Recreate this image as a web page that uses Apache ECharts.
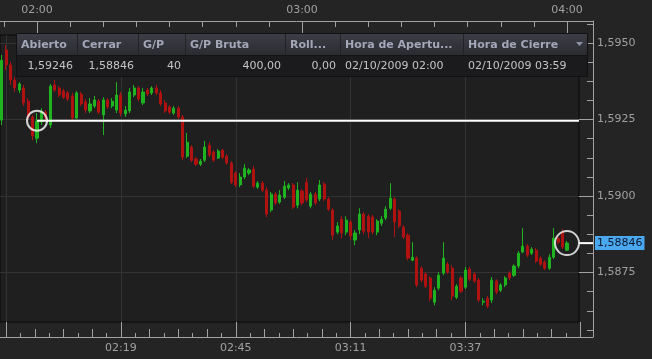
<!DOCTYPE html>
<html><head><meta charset="utf-8">
<script src="https://cdn.jsdelivr.net/npm/echarts@6/dist/echarts.min.js"></script>
<style>html,body{margin:0;padding:0;background:#242424;}#c{width:652px;height:359px;}</style>
</head><body><div id="c"></div>
<script>
// ---------------- DATA ----------------
const times = ['01:52','01:53','01:54','01:55','01:56','01:57','01:58','01:59',
'02:00','02:01','02:02','02:03','02:04','02:05','02:06','02:07','02:08','02:09','02:10','02:11','02:12','02:13','02:14','02:15','02:16','02:17','02:18','02:19',
'02:20','02:21','02:22','02:23','02:24','02:25','02:26','02:27','02:28','02:29','02:30','02:31','02:32','02:33','02:34','02:35','02:36','02:37','02:38','02:39',
'02:40','02:41','02:42','02:43','02:44','02:45','02:46','02:47','02:48','02:49','02:50','02:51','02:52','02:53','02:54','02:55','02:56','02:57','02:58','02:59',
'03:00','03:01','03:02','03:03','03:04','03:05','03:06','03:07','03:08','03:09','03:10','03:11','03:12','03:13','03:14','03:15','03:16','03:17','03:18','03:19',
'03:20','03:21','03:22','03:23','03:24','03:25','03:26','03:27','03:28','03:29','03:30','03:31','03:32','03:33','03:34','03:35','03:36','03:37','03:38','03:39',
'03:40','03:41','03:42','03:43','03:44','03:45','03:46','03:47','03:48','03:49','03:50','03:51','03:52','03:53','03:54','03:55','03:56','03:57','03:58','03:59','04:00'];

const opens = [1.59248,1.59477,1.59428,1.59379,1.59346,1.59353,1.59310,1.59258,
1.59189,1.59242,1.59274,1.59232,1.59363,1.59353,1.59343,1.59337,1.59327,1.59255,1.59333,1.59307,1.59278,1.59294,1.59310,1.59265,1.59314,1.59294,1.59281,1.59330,
1.59268,1.59278,1.59330,1.59353,1.59304,1.59346,1.59337,1.59353,1.59337,1.59304,1.59291,1.59271,1.59287,1.59258,1.59130,1.59160,1.59121,1.59104,1.59117,1.59166,
1.59144,1.59124,1.59150,1.59130,1.59108,1.59075,1.59036,1.59062,1.59075,1.59088,1.59029,1.59042,1.59019,1.58954,1.59006,1.58980,1.58996,1.59026,1.59036,1.58970,
1.59016,1.59045,1.58967,1.59006,1.58990,1.59039,1.58990,1.58954,1.58882,1.58924,1.58882,1.58915,1.58856,1.58889,1.58941,1.58934,1.58931,1.58882,1.58911,1.58928,
1.58960,1.58990,1.58951,1.58898,1.58872,1.58790,1.58797,1.58764,1.58745,1.58732,1.58653,1.58699,1.58748,1.58777,1.58764,1.58669,1.58732,1.58702,1.58761,1.58745,
1.58725,1.58653,1.58666,1.58660,1.58722,1.58692,1.58709,1.58748,1.58741,1.58771,1.58817,1.58836,1.58813,1.58823,1.58797,1.58784,1.58764,1.58800,1.58862,1.58882,1.58823];

const closes = [1.59444,1.59428,1.59379,1.59353,1.59366,1.59304,1.59258,1.59196,
1.59245,1.59274,1.59255,1.59359,1.59346,1.59330,1.59323,1.59317,1.59255,1.59337,1.59301,1.59281,1.59301,1.59314,1.59274,1.59314,1.59291,1.59310,1.59330,1.59271,
1.59281,1.59340,1.59353,1.59317,1.59340,1.59333,1.59353,1.59337,1.59301,1.59278,1.59274,1.59287,1.59258,1.59127,1.59176,1.59117,1.59104,1.59114,1.59160,1.59134,
1.59117,1.59147,1.59127,1.59108,1.59045,1.59036,1.59062,1.59091,1.59085,1.59032,1.59042,1.59019,1.58941,1.59006,1.58977,1.59003,1.59032,1.59036,1.58964,1.59019,
1.58977,1.58987,1.59006,1.58977,1.59036,1.58990,1.58957,1.58872,1.58902,1.58879,1.58921,1.58869,1.58879,1.58941,1.58885,1.58882,1.58882,1.58918,1.58924,1.58957,
1.58993,1.58915,1.58902,1.58866,1.58797,1.58800,1.58709,1.58725,1.58705,1.58666,1.58692,1.58741,1.58797,1.58751,1.58673,1.58705,1.58689,1.58758,1.58728,1.58722,
1.58660,1.58656,1.58640,1.58725,1.58686,1.58709,1.58732,1.58732,1.58771,1.58813,1.58836,1.58807,1.58826,1.58787,1.58777,1.58764,1.58800,1.58862,1.58849,1.58833,1.58846];

const lows = [1.59232,1.59412,1.59363,1.59340,1.59337,1.59294,1.59248,1.59183,
1.59173,1.59232,1.59248,1.59222,1.59340,1.59323,1.59317,1.59310,1.59248,1.59251,1.59294,1.59271,1.59271,1.59287,1.59268,1.59199,1.59284,1.59287,1.59271,1.59261,
1.59258,1.59271,1.59323,1.59310,1.59297,1.59327,1.59330,1.59330,1.59294,1.59271,1.59268,1.59265,1.59251,1.59117,1.59124,1.59111,1.59098,1.59098,1.59111,1.59127,
1.59111,1.59121,1.59121,1.59101,1.59039,1.59029,1.59029,1.59055,1.59068,1.59026,1.59023,1.59013,1.58931,1.58947,1.58970,1.58974,1.58990,1.59019,1.58957,1.58960,
1.58970,1.58980,1.58960,1.58970,1.58983,1.58983,1.58951,1.58856,1.58875,1.58862,1.58872,1.58856,1.58839,1.58875,1.58875,1.58862,1.58875,1.58872,1.58902,1.58921,
1.58954,1.58866,1.58895,1.58859,1.58790,1.58787,1.58702,1.58718,1.58699,1.58656,1.58643,1.58692,1.58741,1.58745,1.58660,1.58663,1.58683,1.58696,1.58722,1.58715,
1.58653,1.58643,1.58633,1.58650,1.58679,1.58686,1.58702,1.58725,1.58735,1.58764,1.58813,1.58800,1.58807,1.58781,1.58771,1.58758,1.58758,1.58794,1.58843,1.58826,1.58820];

const highs = [1.59461,1.59493,1.59438,1.59389,1.59372,1.59363,1.59320,1.59265,
1.59271,1.59287,1.59281,1.59366,1.59379,1.59359,1.59350,1.59343,1.59337,1.59343,1.59340,1.59317,1.59320,1.59327,1.59317,1.59323,1.59320,1.59320,1.59372,1.59340,
1.59294,1.59353,1.59363,1.59359,1.59353,1.59353,1.59359,1.59363,1.59346,1.59314,1.59297,1.59294,1.59294,1.59265,1.59206,1.59166,1.59127,1.59121,1.59180,1.59176,
1.59150,1.59153,1.59153,1.59137,1.59114,1.59081,1.59075,1.59104,1.59091,1.59098,1.59049,1.59049,1.59029,1.59013,1.59013,1.59019,1.59049,1.59042,1.59042,1.59045,
1.59023,1.59059,1.59013,1.59013,1.59052,1.59045,1.58996,1.58960,1.58915,1.58934,1.58934,1.58921,1.58889,1.58960,1.58947,1.58941,1.58938,1.58924,1.58934,1.58967,
1.59042,1.58996,1.58957,1.58905,1.58879,1.58849,1.58803,1.58771,1.58751,1.58738,1.58702,1.58751,1.58849,1.58784,1.58774,1.58712,1.58738,1.58768,1.58768,1.58751,
1.58732,1.58666,1.58673,1.58735,1.58728,1.58715,1.58738,1.58754,1.58777,1.58820,1.58895,1.58843,1.58833,1.58830,1.58803,1.58790,1.58810,1.58895,1.58869,1.58892,1.58853];

const topAxisLabels = ['02:00', '03:00', '04:00'];
const bottomAxisLabels = ['02:19', '02:45', '03:11', '03:37'];
const priceAxisLabels = ['1,5950', '1,5925', '1,5900', '1,5875'];

const tableHeaders = ['Abierto', 'Cerrar', 'G/P', 'G/P Bruta', 'Roll...', 'Hora de Apertu...', 'Hora de Cierre'];
const tableValues = ['1,59246', '1,58846', '40', '400,00', '0,00', '02/10/2009 02:00', '02/10/2009 03:59'];

const markerTimes = ['02:00', '04:00'];
const markerPrices = [1.59246, 1.58846];
const closeLabel = '1,58846';

// ---------------- LAYOUT ----------------
const toMin = s => { const p = s.split(':').map(Number); return p[0] * 60 + p[1] - 120; };
const toPrice = s => parseFloat(s.replace(',', '.'));
const PX_PER_MIN = 265 / 60, X_ANCHOR = 37;          // 02:00 sits at x=37
const PX_PER_PRICE = 76.5 / 0.0025, Y_ANCHOR = 43;   // 1,5950 sits at y=43
const xAt = px => (px - X_ANCHOR) / PX_PER_MIN;
const pAt = py => 1.5950 - (py - Y_ANCHOR) / PX_PER_PRICE;

const A = {left: 0, top: 21, right: 593, bottom: 337};
const F = {left: 0, top: 35, right: 579, bottom: 322};
const axMin = xAt(A.left), axMax = xAt(A.right), ayMin = pAt(A.bottom), ayMax = pAt(A.top);
const fxMin = xAt(F.left), fxMax = xAt(F.right), fyMin = pAt(F.bottom), fyMax = pAt(F.top);

const botVals = bottomAxisLabels.map(toMin);
const botStep = botVals[1] - botVals[0];
const topVals = topAxisLabels.map(toMin);
const topStep = topVals[1] - topVals[0];
const priceVals = priceAxisLabels.map(toPrice);
const priceStep = Math.abs(priceVals[0] - priceVals[1]);

function series(start, step, lo, hi) {
  const out = [];
  const k0 = Math.ceil((lo - start) / step - 1e-9), k1 = Math.floor((hi - start) / step + 1e-9);
  for (let k = k0; k <= k1; k++) out.push({k, v: start + k * step});
  return out;
}
const md = (a, n) => ((a % n) + n) % n;
const bot8 = series(botVals[0], botStep / 8, axMin, axMax);
const botTall = bot8.filter(o => md(o.k, 8) === 0).map(o => o.v);
const botMed = bot8.filter(o => md(o.k, 8) !== 0 && md(o.k, 2) === 0).map(o => o.v);
const botShort = bot8.filter(o => md(o.k, 2) === 1).map(o => o.v);
const top8 = series(topVals[0], topStep / 8, axMin, axMax);
const topMajor = top8.filter(o => md(o.k, 8) === 0).map(o => o.v);
const topMinor = top8.filter(o => md(o.k, 8) !== 0).map(o => o.v);
const pr4 = series(priceVals[3], priceStep / 4, ayMin, ayMax);
const prMajor = pr4.filter(o => md(o.k, 4) === 0).map(o => o.v);
const prMinor = pr4.filter(o => md(o.k, 4) !== 0).map(o => o.v);

const AXC = '#a2a2a2', LBL = '#a0a0a0', FONT = 'DejaVu Sans';
const labelFor = (vals, labels) => v => { let b = 0; vals.forEach((x, i) => { if (Math.abs(x - v) < Math.abs(vals[b] - v)) b = i; }); return labels[b]; };

function xAx(pos, ticks, len, opts) {
  return Object.assign({
    type: 'value', gridIndex: 0, position: pos, min: axMin, max: axMax,
    axisLine: {show: false, onZero: false},
    axisTick: {show: true, inside: true, length: len, customValues: ticks, lineStyle: {color: AXC, width: 1}},
    axisLabel: {show: false}, splitLine: {show: false}
  }, opts || {});
}

const option = {
  backgroundColor: '#242424',
  animation: false,
  grid: [
    {left: A.left, top: A.top, width: A.right - A.left, height: A.bottom - A.top, show: false},
    {left: F.left, top: F.top, width: F.right - F.left, height: F.bottom - F.top, show: true,
     backgroundColor: '#1f1f1f', borderColor: '#080808', borderWidth: 1}
  ],
  xAxis: [
    xAx('bottom', botTall, 15, {
      axisLine: {show: true, onZero: false, lineStyle: {color: AXC, width: 1}},
      axisLabel: {show: true, customValues: botVals, formatter: labelFor(botVals, bottomAxisLabels),
        color: LBL, fontFamily: FONT, fontSize: 11, margin: 6}
    }),
    xAx('bottom', botMed, 8),
    xAx('bottom', botShort, 4),
    xAx('top', topMajor, 12, {
      axisLine: {show: true, onZero: false, lineStyle: {color: AXC, width: 1}},
      axisLabel: {show: true, customValues: topVals, formatter: labelFor(topVals, topAxisLabels),
        color: LBL, fontFamily: FONT, fontSize: 11, margin: 5}
    }),
    xAx('top', topMinor, 6),
    {type: 'value', gridIndex: 1, min: fxMin, max: fxMax,
     axisLine: {show: false, onZero: false}, axisTick: {show: false, customValues: botTall},
     axisLabel: {show: false}, splitLine: {show: true, lineStyle: {color: '#333333', width: 1}}}
  ],
  yAxis: [
    {type: 'value', gridIndex: 0, position: 'right', min: ayMin, max: ayMax,
     axisLine: {show: true, onZero: false, lineStyle: {color: AXC, width: 1}},
     axisTick: {show: true, inside: true, length: 14, customValues: prMajor, lineStyle: {color: AXC}},
     axisLabel: {show: true, customValues: priceVals, formatter: labelFor(priceVals, priceAxisLabels),
       color: LBL, fontFamily: FONT, fontSize: 11, margin: 4},
     splitLine: {show: false}},
    {type: 'value', gridIndex: 0, position: 'right', min: ayMin, max: ayMax,
     axisLine: {show: false, onZero: false},
     axisTick: {show: true, inside: true, length: 6, customValues: prMinor, lineStyle: {color: AXC}},
     axisLabel: {show: false}, splitLine: {show: false}},
    {type: 'value', gridIndex: 1, min: fyMin, max: fyMax,
     axisLine: {show: false, onZero: false}, axisTick: {show: false, customValues: priceVals},
     axisLabel: {show: false}, splitLine: {show: true, lineStyle: {color: '#333333', width: 1}}}
  ],
  series: [
    {type: 'candlestick', xAxisIndex: 5, yAxisIndex: 2,
     data: times.map((t, i) => [toMin(t), opens[i], closes[i], lows[i], highs[i]]),
     encode: {x: 0, y: [1, 2, 3, 4]},
     barWidth: 2.6,
     itemStyle: {color: '#1fb41f', color0: '#b01212', borderColor: '#1fb41f', borderColor0: '#b01212', borderWidth: 1},
     silent: true},
    {type: 'line', xAxisIndex: 5, yAxisIndex: 2, symbol: 'none', silent: true, z: 5,
     data: [[toMin(markerTimes[0]), markerPrices[0]], [fxMax, markerPrices[0]]],
     lineStyle: {color: '#ffffff', width: 2}},
    {type: 'scatter', xAxisIndex: 5, yAxisIndex: 2, silent: true, z: 6,
     data: markerTimes.map((t, i) => ({value: [toMin(t), markerPrices[i]], symbolSize: i === 0 ? 20 : 24})),
     symbol: 'circle',
     itemStyle: {color: 'rgba(0,0,0,0)', borderColor: '#ffffff', borderWidth: 2}},
    {type: 'line', xAxisIndex: 0, yAxisIndex: 0, symbol: 'none', silent: true, z: 6,
     data: [[fxMax, markerPrices[1]], [axMax, markerPrices[1]]],
     lineStyle: {color: '#ffffff', width: 2},
     endLabel: {show: true, formatter: () => closeLabel, distance: 2,
       backgroundColor: '#4aa8ee', color: '#0b1730', fontFamily: FONT, fontSize: 11, padding: [2, 2, 1, 2]}}
  ],
  graphic: []
};

// table overlay
const colEdges = [16, 77, 138, 185, 285, 340, 463, 588];
const hy = 33, rowH = 22;
const g = option.graphic;
g.push({type: 'rect', z: 100, silent: true, shape: {x: colEdges[0], y: hy, width: colEdges[7] - colEdges[0], height: rowH},
  style: {fill: new echarts.graphic.LinearGradient(0, 0, 0, 1, [{offset: 0, color: '#3e3e47'}, {offset: 1, color: '#2b2b32'}])}});
g.push({type: 'rect', z: 100, silent: true, shape: {x: colEdges[0], y: hy + rowH, width: colEdges[7] - colEdges[0], height: rowH},
  style: {fill: '#1b1b1d'}});
g.push({type: 'rect', z: 101, silent: true, shape: {x: colEdges[0] + 0.5, y: hy + 0.5, width: colEdges[7] - colEdges[0] - 1, height: 2 * rowH - 1},
  style: {fill: null, stroke: '#111114', lineWidth: 1}});
g.push({type: 'line', z: 101, silent: true, shape: {x1: colEdges[0], y1: hy + rowH + 0.5, x2: colEdges[7], y2: hy + rowH + 0.5},
  style: {stroke: '#141416', lineWidth: 1}});
for (let i = 1; i < 7; i++) {
  g.push({type: 'line', z: 101, silent: true, shape: {x1: colEdges[i] + 0.5, y1: hy + 1, x2: colEdges[i] + 0.5, y2: hy + rowH},
    style: {stroke: '#222228', lineWidth: 1}});
}
tableHeaders.forEach((h, i) => {
  g.push({type: 'text', z: 102, silent: true, x: colEdges[i] + 5, y: hy + rowH / 2 + 1,
    style: {text: h, fill: '#a3a7b8', font: 'bold 11px "DejaVu Sans"', align: 'left', verticalAlign: 'middle'}});
});
tableValues.forEach((v, i) => {
  const right = i < 5;
  g.push({type: 'text', z: 102, silent: true, x: right ? colEdges[i + 1] - 4 : colEdges[i] + 5, y: hy + rowH * 1.5,
    style: {text: v, fill: '#c4c4c4', font: '11px "DejaVu Sans"', align: right ? 'right' : 'left', verticalAlign: 'middle'}});
});
g.push({type: 'polygon', z: 102, silent: true, shape: {points: [[576, 42], [583, 42], [579.5, 46]]}, style: {fill: '#8e90a6'}});

const chart = echarts.init(document.getElementById('c'), null, {renderer: 'canvas'});
chart.setOption(option);
</script>
</body></html>
